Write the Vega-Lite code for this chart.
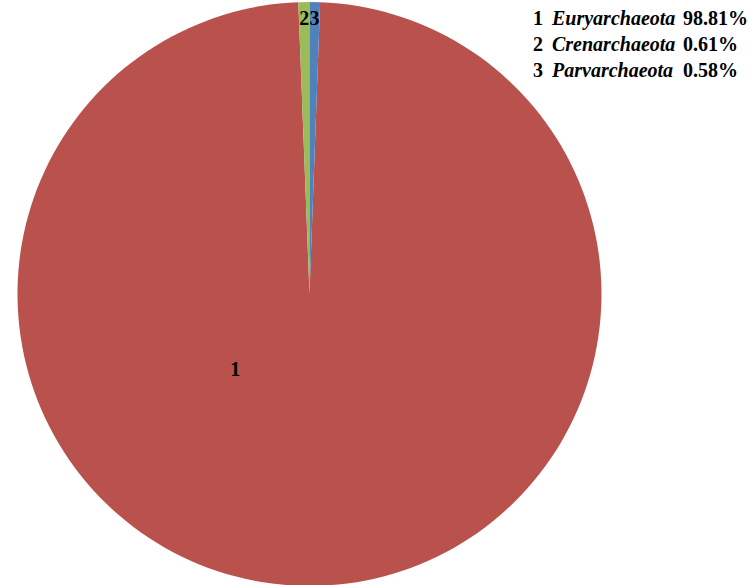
{
  "$schema": "https://vega.github.io/schema/vega-lite/v6.json",
  "width": 619,
  "height": 588,
  "padding": 0,
  "background": "white",
  "config": {"view": {"stroke": null}},
  "data": {"values": [
    {"id": 1, "phylum": "Euryarchaeota", "share": 98.81},
    {"id": 2, "phylum": "Crenarchaeota", "share": 0.61},
    {"id": 3, "phylum": "Parvarchaeota", "share": 0.58}
  ]},
  "transform": [{"calculate": "format(datum.share, '.2f') + '%'", "as": "pct"}],
  "layer": [
    {
      "mark": {"type": "arc", "outerRadius": 292},
      "encoding": {
        "theta": {"field": "share", "type": "quantitative", "stack": true, "scale": {"range": [0.036442, 6.319627]}},
        "order": {"field": "id", "type": "quantitative"},
        "color": {"field": "id", "type": "nominal", "scale": {"domain": [1, 2, 3], "range": ["#B9514C", "#9BBB59", "#4F81BD"]}, "legend": null}
      }
    },
    {
      "mark": {"type": "text", "radius": 275, "font": "Liberation Serif", "fontSize": 20, "fontWeight": "bold", "color": "black", "baseline": "middle", "align": "center"},
      "encoding": {
        "theta": {"field": "share", "type": "quantitative", "stack": true, "scale": {"range": [0.036442, 6.319627]}},
        "order": {"field": "id", "type": "quantitative"},
        "detail": {"field": "id", "type": "nominal"},
        "text": {"field": "id", "type": "nominal"},
        "opacity": {"condition": {"test": "datum.id === 1", "value": 0}, "value": 1}
      }
    },
    {
      "transform": [{"filter": "datum.id === 1"}],
      "mark": {"type": "text", "radius": 106, "font": "Liberation Serif", "fontSize": 20, "fontWeight": "bold", "color": "black", "baseline": "middle", "align": "center"},
      "encoding": {
        "theta": {"field": "share", "type": "quantitative", "stack": true, "scale": {"range": [0.775, 7.058]}},
        "detail": {"field": "id", "type": "nominal"},
        "text": {"field": "id", "type": "nominal"}
      }
    },
    {
      "mark": {"type": "text", "align": "left", "baseline": "alphabetic", "font": "Liberation Serif", "fontSize": 20, "fontWeight": "bold", "color": "black", "x": 533},
      "encoding": {
        "y": {"field": "id", "type": "ordinal", "scale": {"type": "point", "range": [25, 77], "padding": 0}, "axis": null},
        "text": {"field": "id", "type": "nominal"}
      }
    },
    {
      "mark": {"type": "text", "align": "left", "baseline": "alphabetic", "font": "Liberation Serif", "fontSize": 20, "fontWeight": "bold", "fontStyle": "italic", "color": "black", "x": 552},
      "encoding": {
        "y": {"field": "id", "type": "ordinal", "scale": {"type": "point", "range": [25, 77], "padding": 0}, "axis": null},
        "text": {"field": "phylum", "type": "nominal"}
      }
    },
    {
      "mark": {"type": "text", "align": "left", "baseline": "alphabetic", "font": "Liberation Serif", "fontSize": 20, "fontWeight": "bold", "color": "black", "x": 683},
      "encoding": {
        "y": {"field": "id", "type": "ordinal", "scale": {"type": "point", "range": [25, 77], "padding": 0}, "axis": null},
        "text": {"field": "pct", "type": "nominal"}
      }
    }
  ],
  "resolve": {"scale": {"theta": "independent"}}
}
